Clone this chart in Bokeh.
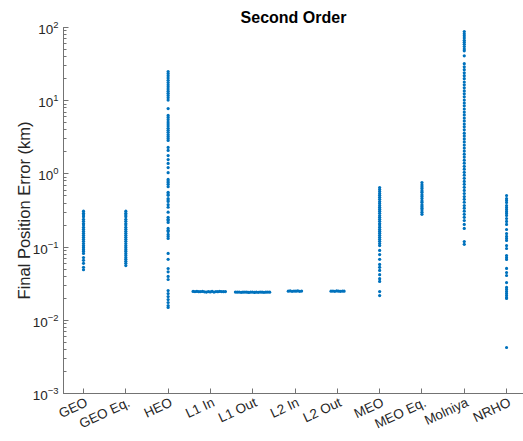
import math
from bokeh.plotting import figure
from bokeh.models import (Range1d, FixedTicker, ColumnDataSource, LinearAxis,
                          CustomLabelingPolicy)
from bokeh.embed import file_html
from bokeh.resources import INLINE

categories = ["GEO", "GEO Eq.", "HEO", "L1 In", "L1 Out", "L2 In", "L2 Out",
              "MEO", "MEO Eq.", "Molniya", "NRHO"]

# Final position error (km) per orbit class
geo_err = [0.31, 0.29, 0.275, 0.26, 0.24, 0.225, 0.21, 0.2, 0.186, 0.175, 0.164,
           0.154, 0.145, 0.136, 0.128, 0.12, 0.112, 0.105, 0.099, 0.093, 0.088,
           0.082, 0.072, 0.066, 0.06, 0.053, 0.049]
geo_eq_err = [0.31, 0.29, 0.275, 0.26, 0.24, 0.225, 0.21, 0.2, 0.186, 0.175, 0.164,
              0.154, 0.145, 0.136, 0.128, 0.12, 0.112, 0.105, 0.099, 0.093, 0.088,
              0.082, 0.077, 0.072, 0.068, 0.064, 0.06, 0.056]
heo_err = [25, 23.5, 22, 20.5, 19, 17.7, 16.5, 15.5, 14.5, 13.5, 12.6, 11.8, 11,
           10.2, 7.8, 6.3, 5.9, 5.5, 5.1, 4.8, 4.5, 4.2, 3.95, 3.7, 3.45, 3.25,
           3.05, 2.87, 2.3, 2.09, 1.78, 1.57, 1.39, 1.22, 1.04, 0.84, 0.8, 0.76,
           0.72, 0.67, 0.56, 0.53, 0.51, 0.46, 0.44, 0.42, 0.38, 0.35, 0.3, 0.255,
           0.24, 0.23, 0.217, 0.18, 0.17, 0.163, 0.149, 0.14, 0.131, 0.082, 0.068,
           0.051, 0.046, 0.0397, 0.0361, 0.0255, 0.0232, 0.0211, 0.0192, 0.0175,
           0.0159, 0.015]
l1_in_err = [0.0248, 0.0247, 0.0248, 0.0246, 0.0247, 0.0248, 0.0245, 0.0243,
             0.0247, 0.0244, 0.0248, 0.0243, 0.0247, 0.0246, 0.0248, 0.0247,
             0.0246, 0.0247]
l1_in_dx = [-0.41, -0.365, -0.32, -0.275, -0.23, -0.185, -0.14, -0.095, -0.05,
            -0.005, 0.04, 0.085, 0.13, 0.175, 0.22, 0.265, 0.31, 0.355]
l1_out_err = [0.0243, 0.0242, 0.0243, 0.0241, 0.0242, 0.0243, 0.0242, 0.0240,
              0.0242, 0.0243, 0.0240, 0.0242, 0.0241, 0.0243, 0.0242, 0.0241,
              0.0242, 0.0243, 0.0242]
l1_out_dx = [-0.41, -0.365, -0.32, -0.275, -0.23, -0.185, -0.14, -0.095, -0.05,
             -0.005, 0.04, 0.085, 0.13, 0.175, 0.22, 0.265, 0.31, 0.355, 0.40]
l2_in_err = [0.0250, 0.0252, 0.0249, 0.0251, 0.0250, 0.0252, 0.0249, 0.0251]
l2_in_dx = [-0.16, -0.115, -0.07, -0.025, 0.02, 0.065, 0.11, 0.155]
l2_out_err = [0.0250, 0.0251, 0.0249, 0.0252, 0.0250, 0.0249, 0.0251, 0.0250]
l2_out_dx = [-0.15, -0.105, -0.06, -0.015, 0.03, 0.075, 0.12, 0.16]
meo_err = [0.65, 0.61, 0.575, 0.54, 0.51, 0.48, 0.45, 0.42, 0.395, 0.37, 0.35,
           0.33, 0.31, 0.29, 0.27, 0.255, 0.24, 0.225, 0.21, 0.2, 0.187, 0.175,
           0.165, 0.155, 0.145, 0.136, 0.128, 0.12, 0.112, 0.105, 0.09, 0.079,
           0.068, 0.058, 0.053, 0.048, 0.042, 0.037, 0.034, 0.0247, 0.0218]
meo_eq_err = [0.76, 0.71, 0.67, 0.63, 0.59, 0.56, 0.52, 0.49, 0.46, 0.43, 0.41,
              0.38, 0.36, 0.34, 0.32, 0.30, 0.28]
molniya_err = [88, 82, 77, 72, 67, 63, 59, 55, 51, 48, 41, 32, 29, 26.5, 24, 22,
               20, 18, 16.5, 15, 13.6, 12.4, 11.3, 10.2, 9.3, 8.5, 7.7, 7.0, 6.4,
               5.8, 5.3, 4.8, 4.4, 4.0, 3.6, 3.3, 3.0, 2.73, 2.48, 2.25, 2.05,
               1.86, 1.7, 1.54, 1.4, 1.27, 1.16, 1.05, 0.96, 0.87, 0.79, 0.72,
               0.655, 0.595, 0.54, 0.49, 0.45, 0.41, 0.37, 0.34, 0.31, 0.28,
               0.255, 0.231, 0.204, 0.18, 0.119, 0.109]
nrho_err = [0.507, 0.461, 0.434, 0.407, 0.37, 0.347, 0.326, 0.306, 0.288, 0.27,
            0.246, 0.224, 0.204, 0.174, 0.153, 0.14, 0.131, 0.123, 0.105, 0.0957,
            0.0768, 0.0721, 0.0678, 0.0511, 0.045, 0.0409, 0.0328, 0.0281,
            0.0264, 0.0247, 0.0232, 0.0218, 0.0205, 0.0199, 0.00425]

series = {
    "GEO": (geo_err, None),
    "GEO Eq.": (geo_eq_err, None),
    "HEO": (heo_err, None),
    "L1 In": (l1_in_err, l1_in_dx),
    "L1 Out": (l1_out_err, l1_out_dx),
    "L2 In": (l2_in_err, l2_in_dx),
    "L2 Out": (l2_out_err, l2_out_dx),
    "MEO": (meo_err, None),
    "MEO Eq.": (meo_eq_err, None),
    "Molniya": (molniya_err, None),
    "NRHO": (nrho_err, None),
}

xs, ys = [], []
for i, cat in enumerate(categories):
    err, dx = series[cat]
    if dx is None:
        dx = [0.0] * len(err)
    xs.extend(i + 1 + d for d in dx)
    ys.extend(err)

src = ColumnDataSource(dict(x=xs, y=ys))

FONT = "Liberation Sans"
TXT = "#262626"
AX = "#737373"
X0, X1 = 0.527, 11.40
LABEL_SHIFT = 0.075  # tick labels are anchored by their top-right corner

p = figure(width=523, height=441, y_axis_type="log",
           x_range=Range1d(X0, X1), y_range=Range1d(1e-3, 1e2),
           output_backend="svg", toolbar_location=None,
           min_border_left=63, min_border_right=0, min_border_top=27,
           min_border_bottom=48, title="Second Order")
p.extra_x_ranges = {"labels": Range1d(X0 - LABEL_SHIFT, X1 - LABEL_SHIFT)}

p.scatter("x", "y", source=src, marker="circle", size=3.2,
          fill_color="#0072BD", line_color=None)

p.title.text_font = FONT
p.title.text_font_size = "16px"
p.title.text_font_style = "bold"
p.title.text_color = "#000000"
p.title.align = "center"
p.title.standoff = 4

p.outline_line_color = None
p.xgrid.visible = False
p.ygrid.visible = False

ticks = list(range(1, len(categories) + 1))

hide_all = CustomLabelingPolicy(code="""
const out = indices;
for (const i of Array.from(out)) { out.unset(i) }
return out
""")

# axis carrying the tick marks (labels drawn by the axis below it)
xa = p.xaxis[0]
xa.ticker = FixedTicker(ticks=ticks)
xa.minor_tick_line_color = None
xa.axis_line_color = AX
xa.major_tick_line_color = AX
xa.major_tick_in = 5
xa.major_tick_out = 0
xa.major_label_policy = hide_all
xa.major_label_text_font_size = "1px"
xa.major_label_standoff = 0

lab = LinearAxis(x_range_name="labels", ticker=FixedTicker(ticks=ticks))
lab.major_label_overrides = {i + 1: c for i, c in enumerate(categories)}
lab.major_label_orientation = math.radians(25)
lab.axis_line_color = None
lab.major_tick_line_color = None
lab.minor_tick_line_color = None
lab.major_tick_in = 0
lab.major_tick_out = 0
lab.major_label_text_font = FONT
lab.major_label_text_font_size = "13.5px"
lab.major_label_text_color = TXT
lab.major_label_standoff = 4
p.add_layout(lab, "below")

ya = p.yaxis[0]
ya.axis_label = "Final Position Error (km)"
ya.axis_label_text_font = FONT
ya.axis_label_text_font_size = "16.5px"
ya.axis_label_text_font_style = "normal"
ya.axis_label_text_color = TXT
ya.axis_label_standoff = -3
ya.minor_tick_in = 3
ya.minor_tick_out = 0
ya.minor_tick_line_color = AX
ya.axis_line_color = AX
ya.major_tick_line_color = AX
ya.major_tick_in = 5
ya.major_tick_out = 0
ya.major_label_text_font = FONT
ya.major_label_text_font_size = "13.5px"
ya.major_label_text_color = TXT
ya.major_label_standoff = 5

open("out.html", "w").write(file_html(p, INLINE))
